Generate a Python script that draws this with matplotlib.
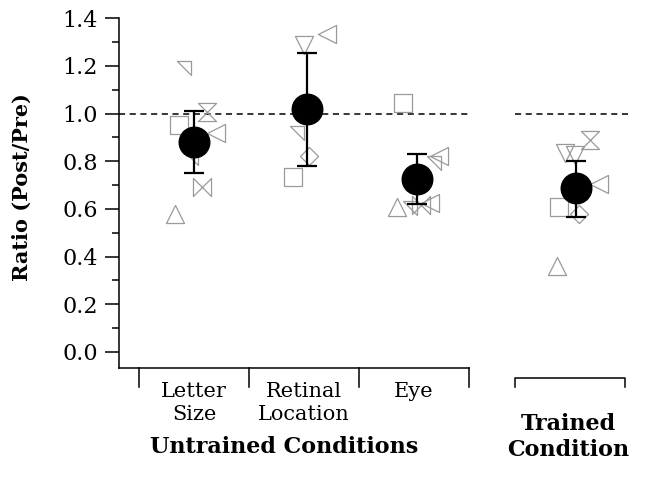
import numpy as np
import matplotlib
matplotlib.use('Agg')
import matplotlib.pyplot as plt
from matplotlib.path import Path

plt.rcParams['font.family'] = 'DejaVu Serif'

# group means and error bars
groups = ['Letter\nSize', 'Retinal\nLocation', 'Eye', 'Trained']
means = [0.882, 1.018, 0.726, 0.686]
err_hi = [1.012, 1.256, 0.831, 0.801]
err_lo = [0.749, 0.781, 0.619, 0.567]

# individual observers (value, marker kind)
letter_vals = [1.193, 1.008, 0.952, 0.917, 0.812, 0.693, 0.578]
letter_mk = ['corner', 'hourglass', 'square', 'left', 'corner', 'bowtie', 'up']
retinal_vals = [1.289, 1.333, 0.917, 0.822, 0.735]
retinal_mk = ['down', 'left', 'corner', 'diamond', 'square']
eye_vals = [1.046, 0.822, 0.792, 0.609, 0.605, 0.615, 0.625]
eye_mk = ['square', 'left', 'corner', 'up', 'corner', 'bowtie', 'left']
trained_vals = [0.889, 0.833, 0.826, 0.703, 0.609, 0.577, 0.36]
trained_mk = ['hourglass', 'down', 'down', 'left', 'square', 'diamond', 'up']

# horizontal jitter (data units)
letter_dx = [-0.09, 0.12, -0.14, 0.20, -0.03, 0.07, -0.17]
retinal_dx = [-0.03, 0.18, -0.09, 0.02, -0.13]
eye_dx = [-0.13, 0.20, 0.15, -0.18, -0.07, 0.03, 0.12]
trained_dx = [0.13, -0.10, -0.01, 0.21, -0.15, 0.03, -0.17]

group_x = [1.0, 2.03, 3.03, 4.47]

markers = {
    'square': Path([(-1, -1), (1, -1), (1, 1), (-1, 1), (-1, -1)], closed=True),
    'diamond': Path([(0, 1), (1, 0), (0, -1), (-1, 0), (0, 1)], closed=True),
    'up': Path([(0, 1), (-1, -1), (1, -1), (0, 1)], closed=True),
    'down': Path([(0, -1), (-1, 1), (1, 1), (0, -1)], closed=True),
    'left': Path([(-1, 0), (1, 1), (1, -1), (-1, 0)], closed=True),
    'corner': Path([(-1, 1), (1, 1), (1, -1), (-1, 1)], closed=True),
    'hourglass': Path([(-1, 1), (1, 1), (-1, -1), (1, -1), (-1, 1)], closed=True),
    'bowtie': Path([(-1, 1), (-1, -1), (1, 1), (1, -1), (-1, 1)], closed=True),
}

fig = plt.figure(figsize=(6.52, 4.78), dpi=100)
ax = fig.add_axes([119 / 652, 110 / 478, 521 / 652, 349.7 / 478])

gray = '#9a9a9a'
all_vals = [letter_vals, retinal_vals, eye_vals, trained_vals]
all_mk = [letter_mk, retinal_mk, eye_mk, trained_mk]
all_dx = [letter_dx, retinal_dx, eye_dx, trained_dx]
for gx, vals, mks, dxs in zip(group_x, all_vals, all_mk, all_dx):
    for v, m, dx in zip(vals, mks, dxs):
        sz = 10 if m == 'corner' else 13
        ax.plot(gx + dx, v, linestyle='none', marker=markers[m], markersize=sz,
                markerfacecolor='none', markeredgecolor=gray, markeredgewidth=0.9, zorder=2)

means = np.array(means)
yerr = [means - np.array(err_lo), np.array(err_hi) - means]
ax.errorbar(group_x, means, yerr=yerr, fmt='o', color='black', markersize=22,
            elinewidth=1.6, capsize=7, capthick=1.6, zorder=4)

# reference lines at ratio 1
ax.plot([0.318, 3.5], [1, 1], ls=(0, (4, 3)), color='black', lw=1.1, zorder=1)
ax.plot([3.92, 4.98], [1, 1], ls=(0, (4, 3)), color='black', lw=1.1, zorder=1)

ymin = -0.068
ax.set_xlim(0.318, 5.055)
ax.set_ylim(ymin, 1.4)
ax.set_yticks(np.arange(0, 1.41, 0.2))
ax.set_yticks(np.arange(0.1, 1.4, 0.2), minor=True)
ax.set_yticklabels(['%.1f' % t for t in np.arange(0, 1.41, 0.2)])
ax.tick_params(axis='y', which='major', length=10, width=1.1, pad=5, labelsize=16)
ax.tick_params(axis='y', which='minor', length=5, width=1.1)
ax.set_xticks([])
for s in ['top', 'right', 'bottom']:
    ax.spines[s].set_visible(False)
ax.spines['left'].set_linewidth(1.1)

# brackets below the axis
kw = dict(color='black', lw=1.1, clip_on=False)
ax.plot([0.318, 3.5], [ymin, ymin], **kw)
for xb in [0.5, 1.5, 2.5, 3.5]:
    ax.plot([xb, xb], [ymin, -0.148], **kw)
ax.plot([3.92, 3.92, 4.92, 4.92], [-0.148, -0.11, -0.11, -0.148], **kw)

for i, lab in enumerate(groups[:3]):
    ax.text(i + 1, -0.125, lab, ha='center', va='top', fontsize=15, linespacing=1.3)
ax.text(1.82, -0.40, 'Untrained Conditions', ha='center', va='center',
        fontsize=16, fontweight='bold')
ax.text(4.40, -0.358, 'Trained\nCondition', ha='center', va='center',
        fontsize=16, fontweight='bold', linespacing=1.2)

fig.text(22 / 652, 1 - 187 / 478, 'Ratio (Post/Pre)', rotation=90, ha='center',
         va='center', fontsize=15, fontweight='bold')

fig.savefig('out.png', dpi=100)
